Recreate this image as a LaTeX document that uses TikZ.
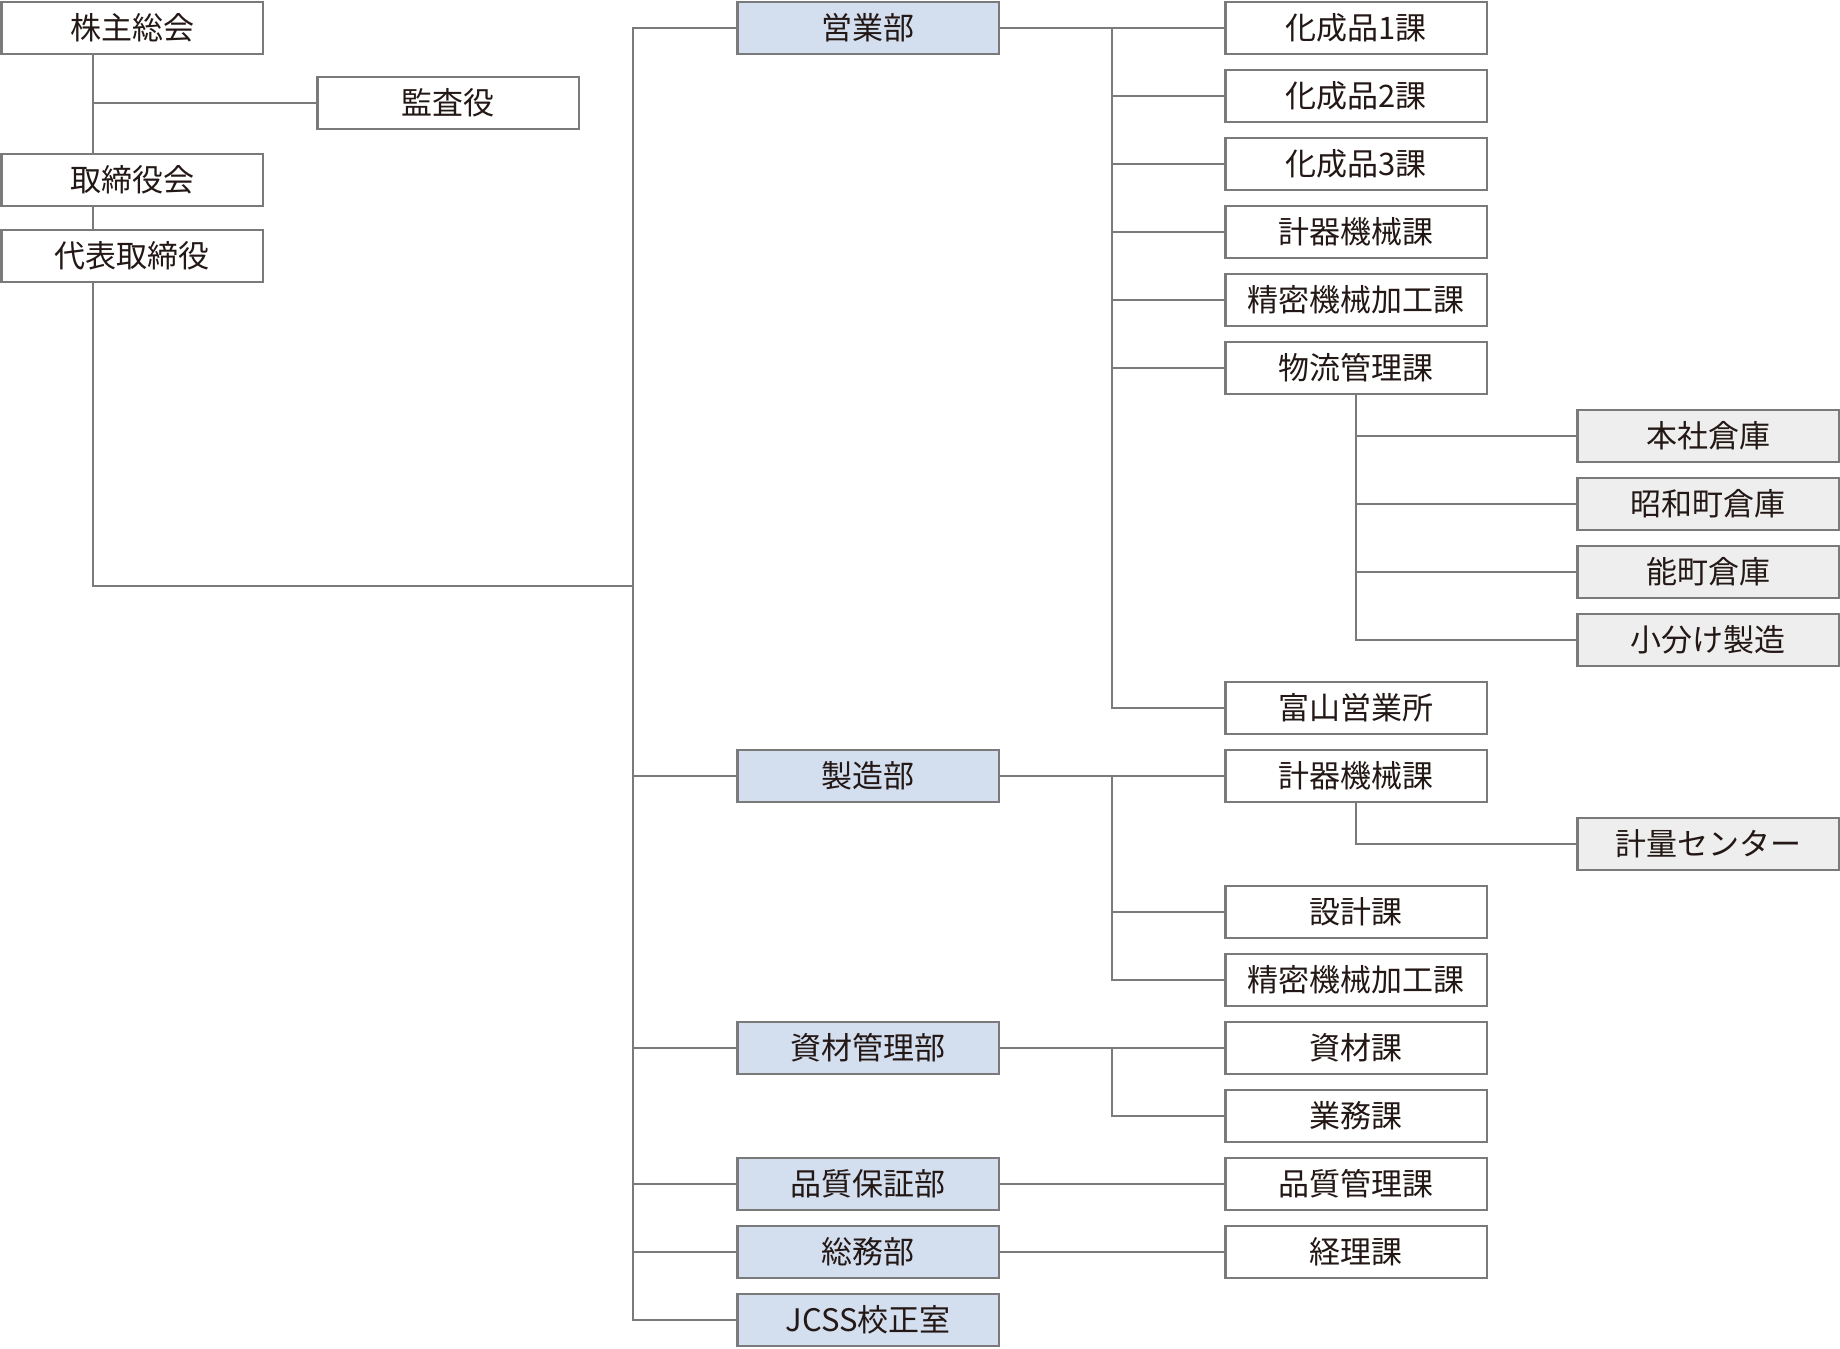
\documentclass[tikz,border=0pt]{standalone}
\usepackage{fontspec}
\usepackage{tikz}
\usepackage{xcolor}
\newfontfamily\jpfont{Noto Sans CJK JP}
\definecolor{linegray}{HTML}{7A7A7A}
\definecolor{deptblue}{HTML}{D3DEEE}
\definecolor{subgray}{HTML}{EEEEEE}
\definecolor{textblack}{HTML}{231815}

\begin{document}
\begin{tikzpicture}[x=0.5pt, y=-0.5pt,
    orgbox/.style={draw=linegray, line width=1.1pt, fill=white, minimum width=130.6pt, minimum height=26pt, inner sep=0pt, text=textblack, font=\jpfont\fontsize{15.5}{18}\selectfont},
    deptbox/.style={orgbox, fill=deptblue},
    subbox/.style={orgbox, fill=subgray},
    conn/.style={draw=linegray, line width=1.1pt}]
    \useasboundingbox (0,0) rectangle (1840,1348);

    % top of the company
    \node[orgbox] (kabunushi) at (132,28) {株主総会};
    \node[orgbox] (kansa) at (448,103) {監査役};
    \node[orgbox] (torikai) at (132,180) {取締役会};
    \node[orgbox] (daihyo) at (132,256) {代表取締役};

    % departments
    \node[deptbox] (eigyo) at (868,28) {営業部};
    \node[deptbox] (seizo) at (868,776) {製造部};
    \node[deptbox] (shizai) at (868,1048) {資材管理部};
    \node[deptbox] (hinsho) at (868,1184) {品質保証部};
    \node[deptbox] (somu) at (868,1252) {総務部};
    \node[deptbox] (jcss) at (868,1320) {JCSS校正室};

    % sections
    \node[orgbox] (ka1) at (1356,28) {化成品1課};
    \node[orgbox] (ka2) at (1356,96) {化成品2課};
    \node[orgbox] (ka3) at (1356,164) {化成品3課};
    \node[orgbox] (keiki) at (1356,232) {計器機械課};
    \node[orgbox] (seimitsu) at (1356,300) {精密機械加工課};
    \node[orgbox] (butsuryu) at (1356,368) {物流管理課};
    \node[orgbox] (toyama) at (1356,708) {富山営業所};
    \node[orgbox] (keiki2) at (1356,776) {計器機械課};
    \node[orgbox] (sekkei) at (1356,912) {設計課};
    \node[orgbox] (seimitsu2) at (1356,980) {精密機械加工課};
    \node[orgbox] (shizaika) at (1356,1048) {資材課};
    \node[orgbox] (gyomu) at (1356,1116) {業務課};
    \node[orgbox] (hinkan) at (1356,1184) {品質管理課};
    \node[orgbox] (keiri) at (1356,1252) {経理課};

    % warehouses etc.
    \node[subbox] (honsha) at (1708,436) {本社倉庫};
    \node[subbox] (showa) at (1708,504) {昭和町倉庫};
    \node[subbox] (nomachi) at (1708,572) {能町倉庫};
    \node[subbox] (kowake) at (1708,640) {小分け製造};
    \node[subbox] (keiryo) at (1708,844) {計量センター};

    \coordinate (lbus) at (93,0);
    \coordinate (trunk) at (633,586);
    \coordinate (bus2) at (1112,0);

    \draw[conn] (kabunushi.south -| lbus) -- (torikai.north -| lbus);
    \draw[conn] (kansa.west -| lbus) -- (kansa.west);
    \draw[conn] (torikai.south -| lbus) -- (daihyo.north -| lbus);
    \draw[conn] (daihyo.south -| lbus) |- (trunk);

    \draw[conn] (eigyo.west) -| (trunk) |- (jcss.west);
    \foreach \d in {seizo, shizai, hinsho, somu}
        \draw[conn] (\d.west -| trunk) -- (\d.west);

    \draw[conn] (eigyo.east) -- (ka1.west);
    \draw[conn] (eigyo.east -| bus2) |- (toyama.west);
    \foreach \s in {ka2, ka3, keiki, seimitsu, butsuryu}
        \draw[conn] (\s.west -| bus2) -- (\s.west);
    \draw[conn] (butsuryu.south) |- (kowake.west);
    \foreach \s in {honsha, showa, nomachi}
        \draw[conn] (\s.west -| butsuryu.south) -- (\s.west);

    \draw[conn] (seizo.east) -- (keiki2.west);
    \draw[conn] (seizo.east -| bus2) |- (seimitsu2.west);
    \draw[conn] (sekkei.west -| bus2) -- (sekkei.west);
    \draw[conn] (keiki2.south) |- (keiryo.west);

    \draw[conn] (shizai.east) -- (shizaika.west);
    \draw[conn] (shizai.east -| bus2) |- (gyomu.west);
    \draw[conn] (hinsho.east) -- (hinkan.west);
    \draw[conn] (somu.east) -- (keiri.west);
\end{tikzpicture}
\end{document}
